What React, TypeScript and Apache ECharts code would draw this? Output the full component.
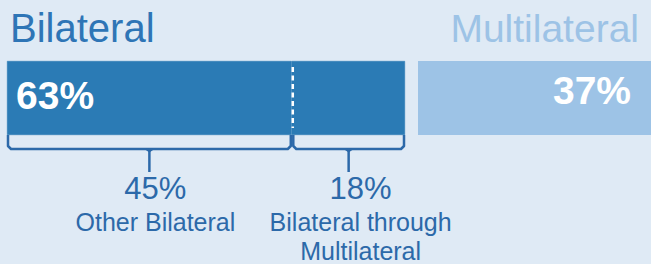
import React, { useEffect, useRef } from "react";
import * as echarts from "echarts";

const groups = ["Bilateral", "Multilateral"];
const bilateralParts = ["Other Bilateral", "Bilateral through Multilateral"];
const bilateralValues = [45, 18];
const multilateralValue = 37;
const bilateralTotal = 63;
const partLabels = ["45%", "18%"];
const partNames = [["Other Bilateral"], ["Bilateral through", "Multilateral"]];

const FONT = "'Liberation Sans', Arial, Helvetica, sans-serif";
const DARK = "#2b7bb5";
const LIGHT = "#9dc3e6";
const TEXT = "#2c69a9";
const BG = "#dfeaf5";
const BAR_TOP = 61;
const BAR_H = 74;

export default function App() {
  const ref = useRef<HTMLDivElement>(null);
  useEffect(() => {
    document.body.style.margin = "0";
    const chart = echarts.init(ref.current!, undefined, { renderer: "svg" });
    chart.setOption({
      animation: false,
      backgroundColor: BG,
      grid: [
        { left: 7, width: 398, top: BAR_TOP, height: BAR_H },
        { left: 418, width: 234, top: BAR_TOP, height: BAR_H },
      ],
      xAxis: [
        { type: "value", gridIndex: 0, min: 0, max: bilateralTotal, show: false },
        { type: "value", gridIndex: 1, min: 0, max: multilateralValue, show: false },
      ],
      yAxis: [
        { type: "category", gridIndex: 0, data: [groups[0]], show: false },
        { type: "category", gridIndex: 1, data: [groups[1]], show: false },
      ],
      series: [
        {
          type: "bar",
          name: bilateralParts[0],
          stack: "b",
          xAxisIndex: 0,
          yAxisIndex: 0,
          barWidth: "100%",
          data: [bilateralValues[0]],
          itemStyle: { color: DARK, borderColor: DARK, borderWidth: 0.5 },
        },
        {
          type: "bar",
          name: bilateralParts[1],
          stack: "b",
          xAxisIndex: 0,
          yAxisIndex: 0,
          barWidth: "100%",
          data: [bilateralValues[1]],
          itemStyle: { color: DARK, borderColor: DARK, borderWidth: 0.5 },
        },
        {
          type: "bar",
          name: groups[1],
          xAxisIndex: 1,
          yAxisIndex: 1,
          barWidth: "100%",
          data: [multilateralValue],
          itemStyle: { color: LIGHT },
        },
      ],
    });

    const px = (v: number, idx: number) =>
      chart.convertToPixel({ xAxisIndex: idx }, v) as number;
    const x0 = px(0, 0);
    const x45 = px(bilateralValues[0], 0);
    const x63 = px(bilateralValues[0] + bilateralValues[1], 0);
    const m37 = px(multilateralValue, 1);
    const bottom = BAR_TOP + BAR_H;

    const braceStyle = { stroke: TEXT, lineWidth: 2.5, fill: "none", lineJoin: "round" };
    const braces = [
      [x0 + 1, x45 - 0.5],
      [x45 + 2, x63 - 1],
    ];
    const labelOffsets = [6, 12];
    const graphics: any[] = [
      {
        type: "text",
        z: 100,
        style: { x: 10, y: 28, text: groups[0], fill: "#2e75b6", font: `40px ${FONT}`, verticalAlign: "middle", align: "left" },
      },
      {
        type: "text",
        z: 100,
        style: { x: m37 - 12, y: 28, text: groups[1], fill: LIGHT, font: `39px ${FONT}`, verticalAlign: "middle", align: "right" },
      },
      {
        type: "text",
        z: 100,
        style: { x: x0 + 9, y: 95.5, text: `${bilateralTotal}%`, fill: "#ffffff", font: `bold 39px ${FONT}`, verticalAlign: "middle", align: "left" },
      },
      {
        type: "text",
        z: 100,
        style: { x: m37 - 20, y: 90.5, text: `${multilateralValue}%`, fill: "#ffffff", font: `bold 39px ${FONT}`, verticalAlign: "middle", align: "right" },
      },
      {
        type: "line",
        z: 100,
        shape: { x1: x45 + 1.5, y1: BAR_TOP + 6, x2: x45 + 1.5, y2: bottom - 7 },
        style: { stroke: "#ffffff", lineWidth: 2.5, lineDash: [5, 3.5] },
      },
    ];
    braces.forEach(([a, b], i) => {
      const mid = (a + b) / 2;
      graphics.push({
        type: "polyline",
        z: 100,
        shape: { points: [[a, bottom], [a, 146], [a + 3, 149], [b - 3, 149], [b, 146], [b, bottom]] },
        style: braceStyle,
      });
      graphics.push({
        type: "polyline",
        z: 100,
        shape: { points: [[mid - 3, 149], [mid, 151], [mid + 3, 149]] },
        style: braceStyle,
      });
      graphics.push({
        type: "line",
        z: 100,
        shape: { x1: mid, y1: 150, x2: mid, y2: 172 },
        style: braceStyle,
      });
      const cx = mid + labelOffsets[i];
      graphics.push({
        type: "text",
        z: 100,
        style: { x: cx, y: 188, text: partLabels[i], fill: TEXT, font: `31px ${FONT}`, verticalAlign: "middle", align: "center" },
      });
      partNames[i].forEach((line, j) => {
        graphics.push({
          type: "text",
          z: 100,
          style: { x: cx, y: 222 + j * 29, text: line, fill: TEXT, font: `25px ${FONT}`, verticalAlign: "middle", align: "center" },
        });
      });
    });
    chart.setOption({ graphic: graphics });
    return () => chart.dispose();
  }, []);
  return <div ref={ref} style={{ width: 651, height: 264 }} />;
}
